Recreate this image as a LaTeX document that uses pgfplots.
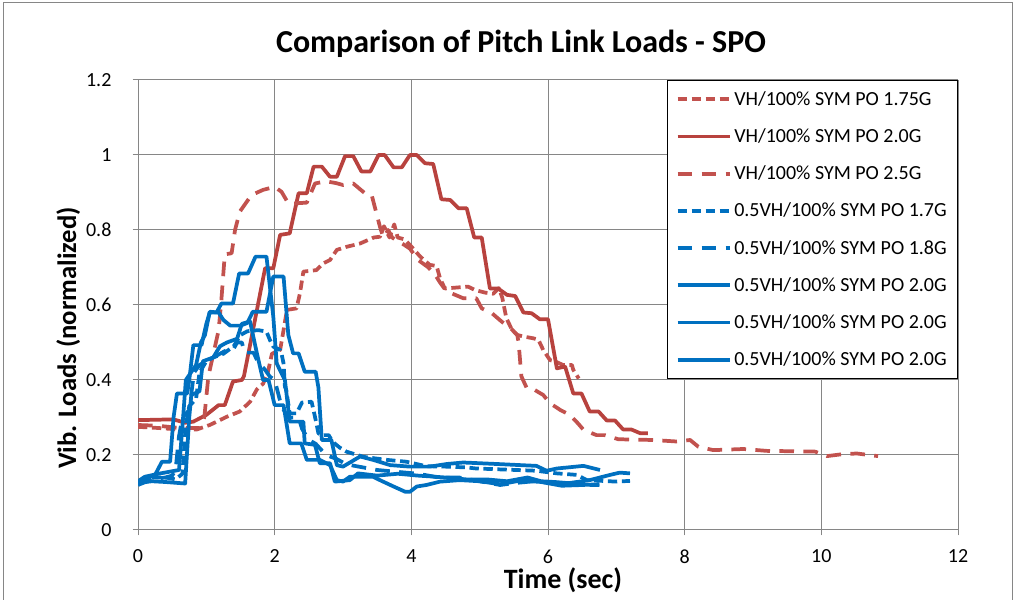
\documentclass[border=0pt]{standalone}
\usepackage{fontspec}
\setmainfont{Carlito}
\usepackage{pgfplots}
\pgfplotsset{compat=1.18}
\definecolor{redS}{RGB}{184,66,62}
\definecolor{redD}{RGB}{194,82,78}
\definecolor{blueL}{RGB}{0,112,192}
\definecolor{gridc}{RGB}{134,134,134}
\begin{document}
\begin{tikzpicture}
\useasboundingbox (0,0) rectangle (762pt,449.25pt);
\draw[gridc, line width=0.75pt] (2.25pt,-5pt) -- (2.25pt,447pt) -- (759pt,447pt) -- (759pt,-5pt);
\node[anchor=base, inner sep=0pt, font=\bfseries\fontsize{24}{28}\selectfont] at (390.75pt,409.5pt) {Comparison of Pitch Link Loads - SPO};
\node[anchor=base, inner sep=0pt, font=\bfseries\fontsize{21}{25}\selectfont] at (422.25pt,8pt) {Time (sec)};
\node[rotate=90, anchor=base, inner sep=0pt, font=\bfseries\fontsize{20}{24}\selectfont] at (57pt,195.75pt) {Vib. Loads (normalized)};
\begin{axis}[
  at={(103.5pt,51.75pt)}, anchor=south west,
  scale only axis, width=615pt, height=337.5pt,
  xmin=0, xmax=12, ymin=0, ymax=1.2,
  xtick={0,2,4,6,8,10,12}, ytick={0,0.2,0.4,0.6,0.8,1,1.2},
  xticklabels={0,2,4,6,8,10,12},
  yticklabels={0,0.2,0.4,0.6,0.8,1,1.2},
  axis x line=bottom, axis y line=left,
  axis line style={-, gridc, line width=0.75pt},
  grid=major, major grid style={gridc, line width=0.75pt},
  tick style={gridc, line width=0.75pt},
  tick align=outside, major tick length=4pt,
  ticklabel style={font=\fontsize{15}{17}\selectfont, text=black},
  /pgf/number format/assume math mode=true,
  yticklabel style={anchor=east, inner sep=0pt, xshift=-15.75pt},
  xticklabel style={anchor=north, inner sep=0pt, yshift=-10.5pt},
  legend style={at={(1,1)}, anchor=north east, draw=black, line width=0.9pt, fill=white,
    font=\fontsize{15}{18}\selectfont, row sep=12pt, inner xsep=6pt, inner ysep=6pt},
  legend cell align=left,
  legend image code/.code={\draw[#1] (0pt,0pt) -- (39pt,0pt);},
  every axis plot/.append style={line width=2.8pt, line join=round},
]
% VH 1.75G
\addplot[redD, dash pattern=on 7pt off 3.5pt] coordinates {
(0,0.275) (0.3,0.272) (0.6,0.268) (0.86,0.268) (1.05,0.28) (1.3,0.302) (1.49,0.316) (1.64,0.342) (1.74,0.375) (1.83,0.39) (1.9,0.42) (1.96,0.47) (2.08,0.48) (2.13,0.533) (2.18,0.587) (2.32,0.591) (2.37,0.631) (2.42,0.689) (2.61,0.693) (2.71,0.711) (2.81,0.72) (2.91,0.747) (3.05,0.755) (3.25,0.764) (3.45,0.78) (3.54,0.782) (3.60,0.81) (3.68,0.78) (3.75,0.815) (3.80,0.78) (3.90,0.775) (3.98,0.76) (4.13,0.729) (4.27,0.707) (4.37,0.704) (4.42,0.671) (4.49,0.644) (4.83,0.649) (4.93,0.64) (5.08,0.633) (5.20,0.63) (5.28,0.645) (5.33,0.62) (5.39,0.565) (5.47,0.535) (5.55,0.52) (5.64,0.516) (5.79,0.511) (5.86,0.507) (5.93,0.48) (6.03,0.453) (6.10,0.45) (6.22,0.44) (6.35,0.44) (6.37,0.427) (6.45,0.404)
};
\addlegendentry{VH/100\% SYM PO 1.75G}
% VH 2.0G
\addplot[redS] coordinates {
(0,0.293) (0.52,0.295) (0.69,0.286) (0.81,0.289) (1.0,0.307) (1.18,0.333) (1.27,0.333) (1.39,0.396) (1.52,0.40) (1.55,0.41) (1.86,0.698) (1.98,0.698) (2.08,0.787) (2.22,0.791) (2.35,0.898) (2.47,0.898) (2.57,0.969) (2.69,0.969) (2.81,0.942) (2.91,0.942) (3.03,0.997) (3.15,0.997) (3.27,0.956) (3.40,0.956) (3.52,1.0) (3.61,1.0) (3.74,0.967) (3.86,0.967) (3.98,1.0) (4.08,1.0) (4.20,0.978) (4.32,0.976) (4.44,0.882) (4.57,0.88) (4.69,0.858) (4.81,0.858) (4.92,0.78) (5.03,0.78) (5.15,0.644) (5.27,0.644) (5.40,0.627) (5.52,0.624) (5.64,0.58) (5.76,0.578) (5.88,0.562) (6.00,0.562) (6.13,0.431) (6.25,0.436) (6.37,0.364) (6.49,0.364) (6.61,0.316) (6.74,0.316) (6.86,0.292) (6.98,0.292) (7.10,0.268) (7.22,0.268) (7.35,0.258) (7.46,0.258)
};
\addlegendentry{VH/100\% SYM PO 2.0G}
% VH 2.5G
\addplot[redD, dash pattern=on 11pt off 7pt] coordinates {
(0,0.28) (0.3,0.278) (0.6,0.272) (0.9,0.272) (0.97,0.30) (1.03,0.41) (1.18,0.533) (1.22,0.613) (1.27,0.735) (1.37,0.738) (1.42,0.80) (1.49,0.849) (1.66,0.893) (1.83,0.907) (2.0,0.915) (2.10,0.902) (2.20,0.871) (2.30,0.871) (2.47,0.873) (2.59,0.924) (2.75,0.93) (2.9,0.925) (3.0,0.92) (3.15,0.924) (3.32,0.898) (3.42,0.893) (3.54,0.809) (3.59,0.78) (3.66,0.80) (3.72,0.78) (3.8,0.77) (3.9,0.76) (3.98,0.75) (4.1,0.72) (4.25,0.70) (4.35,0.68) (4.42,0.66) (4.5,0.64) (4.59,0.631) (4.76,0.618) (4.95,0.618) (5.03,0.591) (5.18,0.578) (5.32,0.556) (5.47,0.535) (5.55,0.52) (5.57,0.50) (5.61,0.41) (5.69,0.378) (5.81,0.373) (5.93,0.36) (6.03,0.338) (6.18,0.32) (6.32,0.307) (6.44,0.284) (6.52,0.267) (6.71,0.253) (6.83,0.253) (7.03,0.242) (7.54,0.24) (7.88,0.236) (8.08,0.24) (8.2,0.222) (8.42,0.213) (8.86,0.216) (9.2,0.211) (9.57,0.21) (9.91,0.209) (10.08,0.197) (10.3,0.202) (10.52,0.204) (10.83,0.197)
};
\addlegendentry{VH/100\% SYM PO 2.5G}
% 0.5VH 1.7G
\addplot[blueL, dash pattern=on 7pt off 3.5pt] coordinates {
(0,0.13) (0.2,0.14) (0.4,0.14) (0.55,0.135) (0.65,0.15) (0.7,0.28) (0.75,0.33) (0.85,0.35) (0.9,0.42) (1.0,0.45) (1.1,0.46) (1.25,0.47) (1.4,0.49) (1.5,0.52) (1.6,0.53) (1.76,0.533) (1.88,0.529) (1.93,0.507) (1.98,0.489) (2.08,0.48) (2.10,0.471) (2.13,0.444) (2.15,0.382) (2.17,0.373) (2.22,0.311) (2.32,0.311) (2.4,0.34) (2.54,0.342) (2.59,0.302) (2.64,0.258) (2.69,0.253) (2.79,0.253) (2.85,0.235) (2.95,0.22) (3.05,0.209) (3.3,0.195) (3.64,0.187) (3.93,0.182) (4.22,0.17) (4.5,0.169) (4.8,0.167) (4.95,0.164) (5.83,0.158) (6.13,0.151) (6.42,0.147) (6.57,0.133) (7.0,0.129) (7.2,0.131)
};
\addlegendentry{0.5VH/100\% SYM PO 1.7G}
% 0.5VH 1.8G
\addplot[blueL, dash pattern=on 11pt off 7pt] coordinates {
(0,0.12) (0.2,0.135) (0.4,0.14) (0.5,0.145) (0.55,0.16) (0.6,0.25) (0.65,0.30) (0.75,0.32) (0.82,0.42) (0.9,0.44) (1.0,0.45) (1.1,0.46) (1.2,0.47) (1.3,0.48) (1.39,0.48) (1.45,0.50) (1.52,0.50) (1.56,0.473) (1.69,0.473) (1.75,0.45) (1.86,0.427) (1.93,0.409) (2.0,0.40) (2.1,0.33) (2.2,0.30) (2.35,0.30) (2.4,0.27) (2.5,0.24) (2.6,0.23) (2.75,0.20) (2.9,0.19) (3.05,0.175) (3.2,0.17) (3.5,0.16) (3.8,0.155) (4.1,0.15) (4.4,0.14) (4.7,0.14) (5.0,0.13) (5.3,0.12) (5.5,0.125) (5.8,0.13) (6.1,0.125) (6.4,0.12) (6.75,0.12)
};
\addlegendentry{0.5VH/100\% SYM PO 1.8G}
% 0.5VH 2.0G (a)
\addplot[blueL] coordinates {
(0,0.124) (0.1,0.138) (0.25,0.147) (0.35,0.182) (0.47,0.182) (0.52,0.30) (0.57,0.364) (0.72,0.364) (0.75,0.40) (0.81,0.493) (0.93,0.493) (1.0,0.55) (1.05,0.58) (1.15,0.58) (1.22,0.604) (1.39,0.604) (1.48,0.684) (1.61,0.684) (1.72,0.729) (1.88,0.729) (1.98,0.569) (2.03,0.444) (2.15,0.40) (2.22,0.289) (2.42,0.289) (2.44,0.231) (2.59,0.227) (2.66,0.178) (2.81,0.178) (2.88,0.129) (3.1,0.133) (3.22,0.151) (3.5,0.145) (3.8,0.15) (4.1,0.145) (4.27,0.143) (4.5,0.14) (4.8,0.135) (5.1,0.135) (5.4,0.13) (5.7,0.14) (5.9,0.13) (6.1,0.128) (6.3,0.125) (6.5,0.13) (6.61,0.133) (6.91,0.147) (7.05,0.153) (7.2,0.151)
};
\addlegendentry{0.5VH/100\% SYM PO 2.0G}
% 0.5VH 2.0G (b)
\addplot[blueL] coordinates {
(0,0.13) (0.1,0.142) (0.3,0.15) (0.45,0.155) (0.6,0.16) (0.66,0.30) (0.7,0.40) (0.85,0.44) (0.92,0.50) (0.98,0.52) (1.05,0.582) (1.18,0.58) (1.25,0.56) (1.35,0.545) (1.5,0.545) (1.6,0.552) (1.68,0.582) (1.88,0.582) (1.98,0.676) (2.13,0.676) (2.2,0.52) (2.27,0.471) (2.35,0.471) (2.44,0.422) (2.6,0.422) (2.64,0.38) (2.69,0.24) (2.83,0.24) (2.91,0.173) (3.0,0.169) (3.25,0.196) (3.44,0.187) (3.69,0.173) (3.98,0.169) (4.27,0.169) (4.52,0.176) (4.76,0.18) (5.25,0.176) (5.83,0.171) (5.98,0.158) (6.13,0.164) (6.52,0.171) (6.76,0.16)
};
\addlegendentry{0.5VH/100\% SYM PO 2.0G}
% 0.5VH 2.0G (c)
\addplot[blueL] coordinates {
(0,0.125) (0.2,0.13) (0.4,0.128) (0.69,0.124) (0.75,0.30) (0.78,0.36) (0.9,0.37) (0.95,0.45) (1.1,0.46) (1.2,0.49) (1.3,0.50) (1.45,0.51) (1.52,0.55) (1.64,0.556) (1.74,0.471) (1.83,0.40) (1.91,0.40) (2.0,0.333) (2.13,0.333) (2.22,0.231) (2.39,0.231) (2.47,0.187) (2.66,0.187) (2.81,0.173) (2.91,0.133) (3.0,0.129) (3.1,0.142) (3.44,0.142) (3.54,0.133) (3.74,0.116) (3.91,0.102) (3.98,0.102) (4.08,0.116) (4.22,0.12) (4.42,0.129) (4.71,0.133) (5.0,0.13) (5.3,0.122) (5.6,0.132) (5.9,0.128) (6.2,0.118) (6.5,0.12) (6.75,0.122)
};
\addlegendentry{0.5VH/100\% SYM PO 2.0G}
\end{axis}
\end{tikzpicture}
\end{document}
